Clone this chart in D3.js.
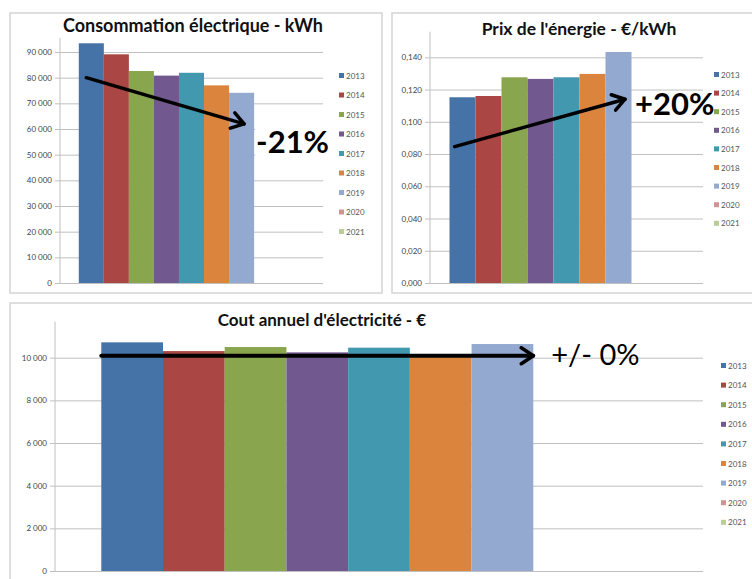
<!DOCTYPE html>
<html>
<head>
<meta charset="utf-8">
<script src="https://cdn.jsdelivr.net/npm/d3@7"></script>
<style>
  body { margin: 0; background: #fff; }
  svg { display: block; font-family: Lato, "Open Sans", sans-serif; }
</style>
</head>
<body>
<svg id="chart" width="752" height="579"></svg>
<script>
// data
const years = ["2013", "2014", "2015", "2016", "2017", "2018", "2019", "2020", "2021"];
const consoValues = [93400, 89100, 82600, 80800, 81900, 77000, 74100, null, null];
const prixValues = [0.1152, 0.1160, 0.1276, 0.1266, 0.1276, 0.1297, 0.1433, null, null];
const coutValues = [10720, 10310, 10500, 10250, 10470, 10050, 10640, null, null];
const consoTicks = [0, 10000, 20000, 30000, 40000, 50000, 60000, 70000, 80000, 90000];
const prixTicks = [0, 0.02, 0.04, 0.06, 0.08, 0.10, 0.12, 0.14];
const coutTicks = [0, 2000, 4000, 6000, 8000, 10000];
// trend arrows: [year, value] at start and end
const consoTrend = { from: ["2013", 80000], to: ["2019", 62000], label: "-21%" };
const prixTrend = { from: ["2013", 0.0846], to: ["2019", 0.1140], label: "+20%" };
const coutTrend = { from: ["2013", 10090], to: ["2019", 10090], label: "+/- 0%" };

const colors = ["#4572A7", "#AA4643", "#89A54E", "#71588F", "#4198AF", "#DB843D", "#93A9CF", "#D19392", "#B9CD96"];

const fr = d3.formatLocale({ decimal: ",", thousands: "\u00a0", grouping: [3], currency: ["", ""] });

const svg = d3.select("#chart");

svg.append("defs").append("marker")
  .attr("id", "chevron")
  .attr("markerUnits", "userSpaceOnUse")
  .attr("viewBox", "0 0 16 20")
  .attr("refX", 14).attr("refY", 10)
  .attr("markerWidth", 16).attr("markerHeight", 20)
  .attr("orient", "auto")
  .append("path")
  .attr("d", "M2,2 L14,10 L2,18")
  .attr("fill", "none")
  .attr("stroke", "#000")
  .attr("stroke-width", 3.5)
  .attr("stroke-linecap", "round")
  .attr("stroke-linejoin", "round");

function drawPanel(p) {
  const g = svg.append("g");

  g.append("rect")
    .attr("x", p.box[0]).attr("y", p.box[1])
    .attr("width", p.box[2]).attr("height", p.box[3])
    .attr("fill", "#fff")
    .attr("stroke", "#d4d4d4")
    .attr("stroke-width", 1.5);

  const x = d3.scaleBand()
    .domain(years)
    .range([p.left, p.right])
    .paddingInner(0)
    .paddingOuter(0.75);

  const y = d3.scaleLinear()
    .domain([0, d3.max(p.ticks)])
    .range([p.bottom, p.gridTop]);

  // grid + labels
  const axis = g.append("g")
    .attr("transform", "translate(" + p.left + ",0)")
    .call(d3.axisLeft(y)
      .tickValues(p.ticks)
      .tickSize(-(p.right - p.left))
      .tickPadding(8)
      .tickFormat(p.format));
  axis.select(".domain").remove();
  axis.selectAll(".tick line")
    .attr("x1", -5)
    .attr("stroke", "#c0c0c0");
  axis.selectAll(".tick text")
    .attr("fill", "#444")
    .style("font-size", "8px")
    .style("font-family", "Lato, sans-serif");

  g.append("line")
    .attr("x1", p.left).attr("x2", p.left)
    .attr("y1", p.bottom).attr("y2", p.top)
    .attr("stroke", "#c0c0c0");

  g.selectAll("rect.bar")
    .data(p.values.map((v, i) => ({ year: years[i], value: v, color: colors[i] })).filter(d => d.value != null))
    .enter()
    .append("rect")
    .attr("class", "bar")
    .attr("x", d => x(d.year))
    .attr("width", x.bandwidth())
    .attr("y", d => y(d.value))
    .attr("height", d => y(0) - y(d.value))
    .attr("fill", d => d.color);

  // legend
  const legend = g.selectAll("g.leg")
    .data(years)
    .enter()
    .append("g")
    .attr("class", "leg")
    .attr("transform", (d, i) => "translate(" + p.legendX + "," + (p.legendY + i * p.legendStep) + ")");
  legend.append("rect")
    .attr("x", 0).attr("y", -3)
    .attr("width", 5).attr("height", 5)
    .attr("fill", (d, i) => colors[i]);
  legend.append("text")
    .attr("x", 7).attr("y", 2.5)
    .attr("fill", "#555")
    .style("font-size", "8px")
    .text(d => d);

  g.append("text")
    .attr("x", p.titleX).attr("y", p.titleY)
    .attr("text-anchor", "middle")
    .attr("fill", "#111")
    .style("font-size", p.titleSize + "px")
    .style("font-weight", "bold")
    .text(p.title);

  // trend arrow
  const t = p.trend;
  const x1 = x(t.from[0]) + x.bandwidth() * p.arrowFrac[0];
  const x2 = x(t.to[0]) + x.bandwidth() * p.arrowFrac[1];
  g.append("line")
    .attr("x1", x1).attr("y1", y(t.from[1]))
    .attr("x2", x2).attr("y2", y(t.to[1]))
    .attr("stroke", "#000")
    .attr("stroke-width", p.arrowWidth)
    .attr("stroke-linecap", "round")
    .attr("marker-end", "url(#chevron)");

  const label = g.append("text")
    .attr("x", x2 + p.labelOffset[0])
    .attr("y", y(t.to[1]) + p.labelOffset[1])
    .attr("fill", "#000")
    .style("font-size", p.labelSize + "px")
    .style("font-weight", p.labelWeight)
    .text(t.label);
  if (p.labelBg) {
    const bb = label.node().getBBox();
    g.insert("rect", function () { return label.node(); })
      .attr("x", bb.x - 1).attr("y", bb.y + 3)
      .attr("width", bb.width + 2).attr("height", bb.height - 6)
      .attr("fill", "#fff");
  }
}

drawPanel({
  box: [10, 13, 372, 280],
  left: 60, right: 323, bottom: 283, gridTop: 52, top: 38,
  ticks: consoTicks, values: consoValues, format: fr.format(",.0f"),
  legendX: 339, legendY: 76, legendStep: 19.5,
  title: "Consommation électrique - kWh", titleX: 193, titleY: 32, titleSize: 18,
  trend: consoTrend, arrowFrac: [0.3, 0.6], arrowWidth: 3.5,
  labelOffset: [12, 29], labelSize: 31, labelWeight: "bold", labelBg: true
});

drawPanel({
  box: [392, 13, 372, 280],
  left: 430, right: 703, bottom: 283, gridTop: 57.3, top: 31.7,
  ticks: prixTicks, values: prixValues, format: fr.format(",.3f"),
  legendX: 714, legendY: 75, legendStep: 18.6,
  title: "Prix de l'énergie - €/kWh", titleX: 579, titleY: 35, titleSize: 17.5,
  trend: prixTrend, arrowFrac: [0.2, 0.75], arrowWidth: 3.5,
  labelOffset: [10, 16], labelSize: 31, labelWeight: "bold", labelBg: false
});

drawPanel({
  box: [10, 303, 760, 290],
  left: 55, right: 703, bottom: 571, gridTop: 357.7, top: 321.7,
  ticks: coutTicks, values: coutValues, format: fr.format(",.0f"),
  legendX: 721, legendY: 366, legendStep: 19.6,
  title: "Cout annuel d'électricité - €", titleX: 322, titleY: 326, titleSize: 17,
  trend: coutTrend, arrowFrac: [0, 1], arrowWidth: 4,
  labelOffset: [18, 9], labelSize: 29, labelWeight: "normal", labelBg: false
});
</script>
</body>
</html>
